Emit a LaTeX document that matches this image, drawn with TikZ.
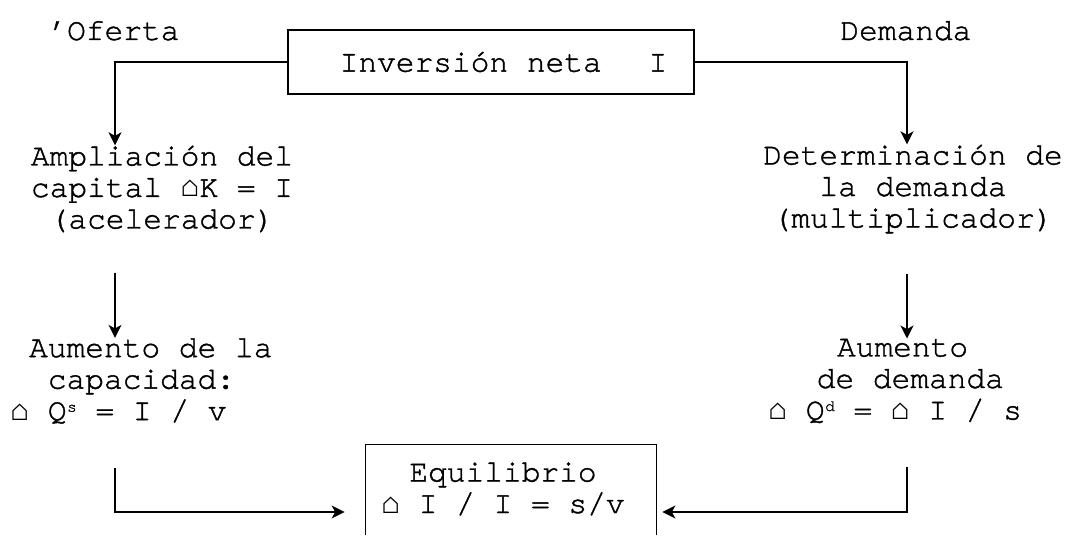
\documentclass[tikz,border=0pt]{standalone}
\usepackage{fontspec}
\setmainfont{TeX Gyre Cursor}[FakeBold=1.3]
\newfontfamily\lmono{Liberation Mono}
\usetikzlibrary{arrows.meta}
\newcommand\hs{{\lmono ⌂}}
\newcommand\msp{\hspace*{0.6em}}
\newcommand\sups[1]{\kern0.02em\raisebox{0.65ex}{\fontsize{8pt}{8pt}\selectfont #1}}
\begin{document}
\begin{tikzpicture}[x=0.5pt,y=-0.5pt,
  every node/.style={font=\fontsize{15.6pt}{15.75pt}\selectfont, inner sep=0pt},
  line/.style={line width=0.75pt},
  arr/.style={line width=0.75pt, -{Stealth[length=6.5pt,width=6.5pt,inset=1.8pt]}},
  box/.style={draw, line width=0.75pt}]
\useasboundingbox (0,0) rectangle (1074,535);
\coordinate (lx) at (115,0);
\coordinate (rx) at (907,0);

\node[anchor=base west] (of) at (48,40) {’Oferta};
\node[anchor=base west] (dem) at (840,40) {Demanda};
\node[box, minimum width=203pt, minimum height=32pt] (inv) at (491,62) {\hspace*{0.8em}Inversión neta\hspace*{1.5em}I};

\node[align=center] (amp) at (162,189) {Ampliación del\\capital \hs K = I\\(acelerador)};
\node[align=center] (det) at (913,189) {Determinación de\\la demanda\\(multiplicador)};

\node[align=left, anchor=west] (aums) at (10,381) {\msp Aumento de la\\\msp\msp capacidad:\\\hs\ Q\sups{s} = I / v};
\node[align=left, anchor=west] (aumd) at (768,381) {\hspace*{2.2em}Aumento\\\hspace*{1.55em}de demanda\\\hs\ Q\sups{d} = \hs\ I / s};

\node[minimum width=145pt, minimum height=45pt] (eq) at (511,490) {};
\draw[line] (eq.south west) -- (eq.north west) -- (eq.north east) -- (eq.south east);
\node[align=center] (eqt) at (503,489) {Equilibrio\\\hs\ I / I = s/v};

\draw[arr] (inv.west) -| (amp.north -| lx);
\draw[arr] (inv.east) -| (det.north -| rx);
\draw[arr, shorten <=20pt] (amp.south -| lx) -- (aums.north -| lx);
\draw[arr, shorten <=20pt] (det.south -| rx) -- (aumd.north -| rx);
\draw[arr, shorten <=22pt, shorten >=10.5pt] (aums.south -| lx) |- ([yshift=-11pt]eq.west);
\draw[arr, shorten <=22pt, shorten >=3pt] (aumd.south -| rx) |- ([yshift=-11pt]eq.east);
\end{tikzpicture}
\end{document}
